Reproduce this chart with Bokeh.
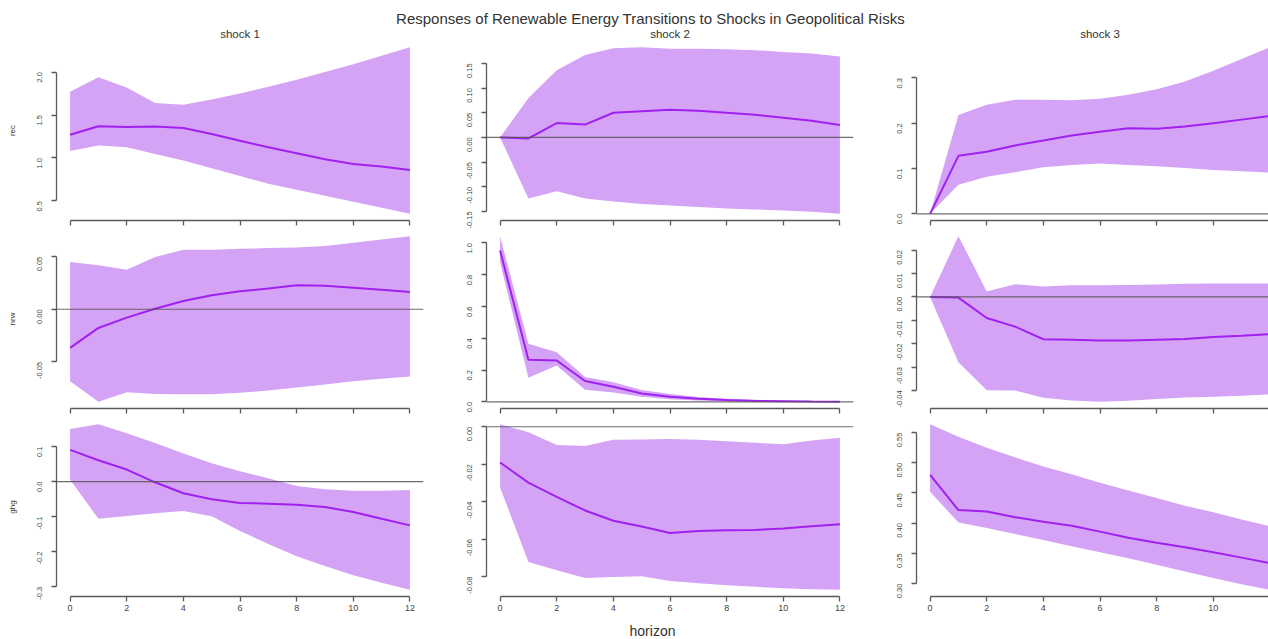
import math
from bokeh.plotting import figure
from bokeh.layouts import column, row
from bokeh.models import Range1d, FixedTicker, PrintfTickFormatter, Span, Label
from bokeh.embed import file_html
from bokeh.resources import INLINE

# ---------------- data ----------------
TITLE = "Responses of Renewable Energy Transitions to Shocks in Geopolitical Risks"
shocks = ["shock 1", "shock 2", "shock 3"]
variables = ["rec", "nrw", "ghg"]
horizon = [0, 1, 2, 3, 4, 5, 6, 7, 8, 9, 10, 11, 12]
x_ticks = [0, 2, 4, 6, 8, 10, 12]
x_label = "horizon"

rec_s1_mean = [1.27, 1.37, 1.36, 1.367, 1.35, 1.28, 1.20, 1.125, 1.055, 0.985, 0.93, 0.90, 0.86]
rec_s1_lower = [1.08, 1.145, 1.125, 1.047, 0.97, 0.88, 0.79, 0.70, 0.63, 0.56, 0.49, 0.42, 0.35]
rec_s1_upper = [1.77, 1.94, 1.82, 1.64, 1.62, 1.68, 1.75, 1.83, 1.91, 2.00, 2.09, 2.19, 2.29]

rec_s2_mean = [0.0, -0.002, 0.029, 0.026, 0.050, 0.053, 0.056, 0.054, 0.050, 0.046, 0.040, 0.034, 0.025]
rec_s2_lower = [0.0, -0.124, -0.109, -0.124, -0.130, -0.135, -0.138, -0.141, -0.144, -0.146, -0.148, -0.151, -0.155]
rec_s2_upper = [0.0, 0.080, 0.136, 0.167, 0.181, 0.183, 0.180, 0.180, 0.179, 0.177, 0.173, 0.170, 0.164]

rec_s3_mean = [0.0, 0.128, 0.137, 0.151, 0.162, 0.173, 0.181, 0.189, 0.188, 0.193, 0.200, 0.208, 0.216]
rec_s3_lower = [0.0, 0.064, 0.082, 0.092, 0.103, 0.108, 0.111, 0.108, 0.105, 0.101, 0.097, 0.094, 0.091]
rec_s3_upper = [0.0, 0.218, 0.241, 0.252, 0.252, 0.251, 0.254, 0.263, 0.275, 0.292, 0.316, 0.342, 0.368]

nrw_s1_mean = [-0.0367, -0.0177, -0.0079, 0.0006, 0.0079, 0.0133, 0.0171, 0.0199, 0.0228, 0.0225, 0.0206, 0.0187, 0.0165]
nrw_s1_lower = [-0.0684, -0.088, -0.0788, -0.0804, -0.0807, -0.0807, -0.0794, -0.0772, -0.0744, -0.0715, -0.0684, -0.0661, -0.0639]
nrw_s1_upper = [0.0449, 0.0418, 0.0377, 0.0497, 0.0566, 0.0566, 0.0576, 0.0582, 0.0589, 0.0601, 0.0633, 0.0665, 0.0696]

nrw_s2_mean = [0.952, 0.265, 0.260, 0.131, 0.095, 0.053, 0.032, 0.019, 0.011, 0.006, 0.004, 0.002, 0.001]
nrw_s2_lower = [0.878, 0.152, 0.229, 0.076, 0.059, 0.032, 0.017, 0.008, 0.004, 0.002, 0.001, 0.0, 0.0]
nrw_s2_upper = [1.043, 0.366, 0.313, 0.157, 0.123, 0.074, 0.049, 0.030, 0.019, 0.013, 0.008, 0.004, 0.002]

nrw_s3_mean = [0.0, -0.0003, -0.009, -0.0127, -0.0181, -0.0183, -0.0187, -0.0186, -0.0183, -0.018, -0.0171, -0.0166, -0.0159]
nrw_s3_lower = [0.0, -0.028, -0.0399, -0.040, -0.0431, -0.0443, -0.0449, -0.0444, -0.0437, -0.043, -0.0427, -0.0423, -0.0417]
nrw_s3_upper = [0.0, 0.026, 0.0023, 0.0054, 0.0044, 0.005, 0.005, 0.0051, 0.0053, 0.0056, 0.0057, 0.0057, 0.0057]

ghg_s1_mean = [0.0906, 0.061, 0.0344, -0.002, -0.0334, -0.0506, -0.061, -0.063, -0.0658, -0.0725, -0.0868, -0.106, -0.125]
ghg_s1_lower = [0.005, -0.106, -0.098, -0.0906, -0.084, -0.099, -0.141, -0.178, -0.213, -0.241, -0.267, -0.289, -0.309]
ghg_s1_upper = [0.150, 0.164, 0.138, 0.110, 0.080, 0.0525, 0.0296, 0.0095, -0.0124, -0.022, -0.0258, -0.0258, -0.0239]

ghg_s2_mean = [-0.0191, -0.0298, -0.0374, -0.0447, -0.0502, -0.0533, -0.0567, -0.0556, -0.0552, -0.0551, -0.0543, -0.0531, -0.052]
ghg_s2_lower = [-0.0324, -0.0722, -0.0766, -0.0807, -0.0802, -0.0798, -0.0823, -0.0836, -0.0846, -0.0855, -0.0862, -0.0868, -0.0871]
ghg_s2_upper = [0.0014, -0.003, -0.0098, -0.0103, -0.0069, -0.0068, -0.0066, -0.0069, -0.0077, -0.0086, -0.0093, -0.0073, -0.0059]

ghg_s3_mean = [0.480, 0.4217, 0.4195, 0.410, 0.4024, 0.3958, 0.386, 0.376, 0.3677, 0.360, 0.3518, 0.343, 0.334]
ghg_s3_lower = [0.452, 0.401, 0.392, 0.382, 0.372, 0.362, 0.352, 0.342, 0.331, 0.320, 0.3094, 0.299, 0.2896]
ghg_s3_upper = [0.564, 0.543, 0.525, 0.509, 0.494, 0.481, 0.467, 0.454, 0.4415, 0.429, 0.418, 0.406, 0.395]

rec_s1_ticks = [0.5, 1.0, 1.5, 2.0]
rec_s2_ticks = [-0.15, -0.10, -0.05, 0.0, 0.05, 0.10, 0.15]
rec_s3_ticks = [0.0, 0.1, 0.2, 0.3]
nrw_s1_ticks = [-0.05, 0.0, 0.05]
nrw_s2_ticks = [0.0, 0.2, 0.4, 0.6, 0.8, 1.0]
nrw_s3_ticks = [-0.04, -0.03, -0.02, -0.01, 0.0, 0.01, 0.02]
ghg_s1_ticks = [-0.3, -0.2, -0.1, 0.0, 0.1]
ghg_s2_ticks = [-0.08, -0.06, -0.04, -0.02, 0.0]
ghg_s3_ticks = [0.30, 0.35, 0.40, 0.45, 0.50, 0.55]

panels = {
    ("rec", 0): (rec_s1_mean, rec_s1_lower, rec_s1_upper, rec_s1_ticks, "%.1f"),
    ("rec", 1): (rec_s2_mean, rec_s2_lower, rec_s2_upper, rec_s2_ticks, "%.2f"),
    ("rec", 2): (rec_s3_mean, rec_s3_lower, rec_s3_upper, rec_s3_ticks, "%.1f"),
    ("nrw", 0): (nrw_s1_mean, nrw_s1_lower, nrw_s1_upper, nrw_s1_ticks, "%.2f"),
    ("nrw", 1): (nrw_s2_mean, nrw_s2_lower, nrw_s2_upper, nrw_s2_ticks, "%.1f"),
    ("nrw", 2): (nrw_s3_mean, nrw_s3_lower, nrw_s3_upper, nrw_s3_ticks, "%.2f"),
    ("ghg", 0): (ghg_s1_mean, ghg_s1_lower, ghg_s1_upper, ghg_s1_ticks, "%.1f"),
    ("ghg", 1): (ghg_s2_mean, ghg_s2_lower, ghg_s2_upper, ghg_s2_ticks, "%.2f"),
    ("ghg", 2): (ghg_s3_mean, ghg_s3_lower, ghg_s3_upper, ghg_s3_ticks, "%.2f"),
}

# ---------------- style / layout ----------------
FONT = "Liberation Sans"
BAND = "#D5A3F6"
LINE = "#A020F0"
AXIS = "#5a5a5a"
TEXT = "#333333"
TICKTEXT = "#444444"

col_widths = [430, 430, 408]
left_border = 56
right_borders = [7, 7, 0]
row_heights = [189, 188, 202]
bottom_borders = [9, 9, 23]
title_h = 40
footer_h = 20
total_w = sum(col_widths)

x_pad = 0.04 * (max(horizon) - min(horizon))
x0 = min(horizon) - x_pad
x1 = max(horizon) + x_pad
full_frame_w = col_widths[0] - left_border - right_borders[0]
px_per_unit = full_frame_w / (x1 - x0)


def text_strip(h):
    f = figure(width=total_w, height=h, x_range=Range1d(0, total_w), y_range=Range1d(h, 0),
               toolbar_location=None, output_backend="svg", min_border=0,
               x_axis_location=None, y_axis_location=None, outline_line_color=None)
    f.xgrid.visible = False
    f.ygrid.visible = False
    return f


# title strip (main title + column titles)
tf = text_strip(title_h)
tf.add_layout(Label(x=650, y=18, text=TITLE, text_align="center", text_baseline="middle",
                    text_font=FONT, text_font_size="15px", text_color=TEXT))
for c, s in enumerate(shocks):
    cx = sum(col_widths[:c]) + left_border + full_frame_w / 2
    tf.add_layout(Label(x=cx, y=33.6, text=s, text_align="center", text_baseline="middle",
                        text_font=FONT, text_font_size="11.5px", text_color=TEXT))

rows = [tf]
for r, var in enumerate(variables):
    figs = []
    for c in range(3):
        mean, lower, upper, ticks, fmt = panels[(var, c)]
        fw = col_widths[c] - left_border - right_borders[c]
        xr = Range1d(x0, x0 + fw / px_per_unit)
        lo, hi = min(lower), max(upper)
        pad = 0.04 * (hi - lo)
        yr = Range1d(lo - pad, hi + pad)
        p = figure(width=col_widths[c], height=row_heights[r], x_range=xr, y_range=yr,
                   toolbar_location=None, output_backend="svg", min_border=0,
                   min_border_left=left_border, min_border_right=right_borders[c],
                   min_border_top=0, min_border_bottom=bottom_borders[r])
        p.outline_line_color = None
        p.xgrid.grid_line_color = None
        p.ygrid.grid_line_color = None

        p.varea(x=horizon, y1=lower, y2=upper, fill_color=BAND, fill_alpha=1.0)
        p.line(x=horizon, y=mean, line_color=LINE, line_width=2)
        if yr.start < 0 < yr.end:
            p.add_layout(Span(location=0, dimension="width", line_color="#555555",
                              line_width=1.1, line_alpha=0.85))

        xa = p.xaxis[0]
        xa.ticker = FixedTicker(ticks=x_ticks)
        xa.bounds = (x_ticks[0], x_ticks[-1])
        xa.axis_line_color = AXIS
        xa.axis_line_width = 1.3
        xa.major_tick_line_color = AXIS
        xa.major_tick_line_width = 1.3
        xa.major_tick_in = 0
        xa.major_tick_out = 5
        xa.minor_tick_line_color = None
        if r == len(variables) - 1:
            xa.major_label_text_font = FONT
            xa.major_label_text_font_size = "9px"
            xa.major_label_text_color = TICKTEXT
            xa.major_label_standoff = 3
        else:
            xa.major_label_text_font_size = "1px"
            xa.major_label_text_color = None
            xa.major_label_standoff = 0

        ya = p.yaxis[0]
        ya.ticker = FixedTicker(ticks=ticks)
        ya.bounds = (ticks[0], ticks[-1])
        ya.formatter = PrintfTickFormatter(format=fmt)
        ya.axis_line_color = AXIS
        ya.axis_line_width = 1.3
        ya.major_tick_line_color = AXIS
        ya.major_tick_line_width = 1.3
        ya.major_tick_in = 0
        ya.major_tick_out = 5
        ya.minor_tick_line_color = None
        ya.major_label_orientation = math.pi / 2
        ya.major_label_text_font = FONT
        ya.major_label_text_font_size = "7.5px"
        ya.major_label_text_color = TICKTEXT
        ya.major_label_standoff = 12
        if c == 0:
            ya.axis_label = var
            ya.axis_label_text_font = FONT
            ya.axis_label_text_font_size = "8px"
            ya.axis_label_text_font_style = "normal"
            ya.axis_label_text_color = TEXT
            ya.axis_label_standoff = 15
        figs.append(p)
    rows.append(row(*figs, spacing=0))

# footer strip (x axis title)
ff = text_strip(footer_h)
ff.add_layout(Label(x=652, y=11.6, text=x_label, text_align="center", text_baseline="middle",
                    text_font=FONT, text_font_size="14px", text_color=TEXT))
rows.append(ff)

layout = column(*rows, spacing=0)
open("out.html", "w").write(file_html(layout, INLINE))
